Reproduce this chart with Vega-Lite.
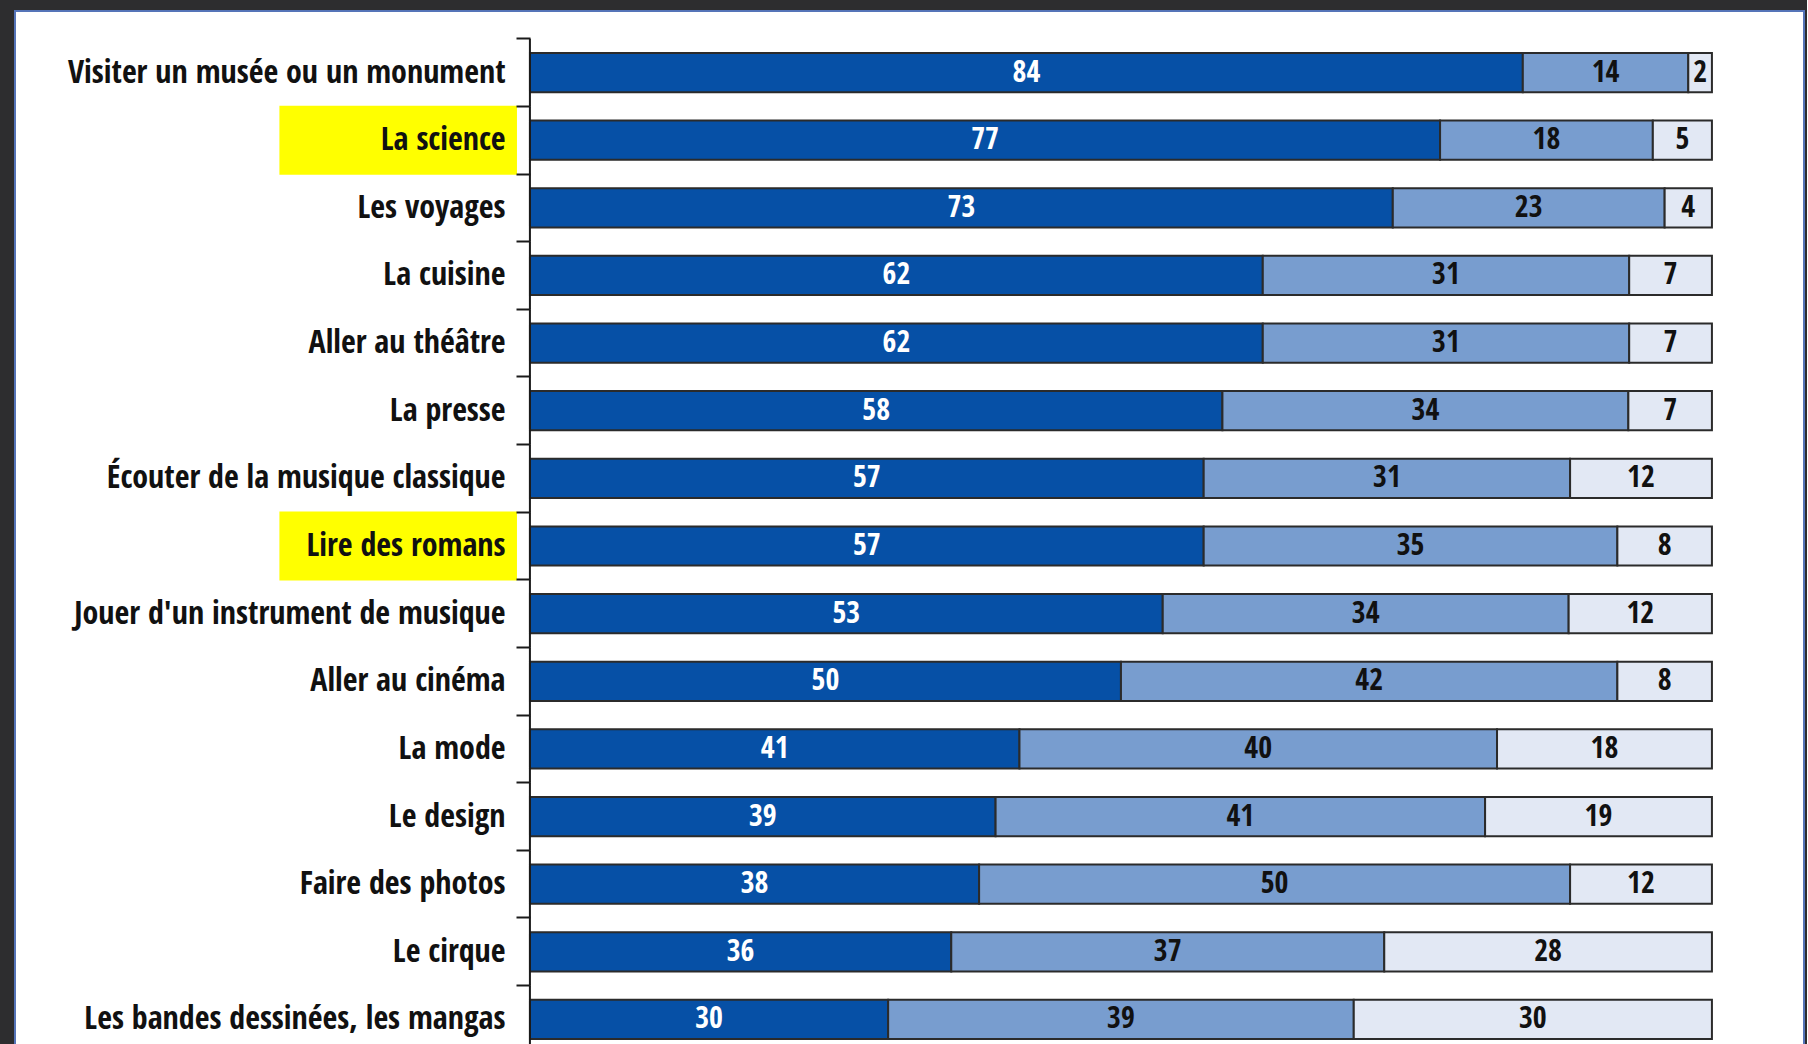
{
  "$schema": "https://vega.github.io/schema/vega-lite/v6.json",
  "width": 1789,
  "height": 1070,
  "padding": {"left": 15, "top": 11, "right": 3, "bottom": 0},
  "background": "#2d2d2f",
  "view": {"fill": "#ffffff", "stroke": "#5574b8", "strokeWidth": 2},
  "datasets": {
    "main": [
      {"activite": "Visiter un musée ou un monument", "segment": 1, "pct": 84},
      {"activite": "Visiter un musée ou un monument", "segment": 2, "pct": 14},
      {"activite": "Visiter un musée ou un monument", "segment": 3, "pct": 2},
      {"activite": "La science", "segment": 1, "pct": 77},
      {"activite": "La science", "segment": 2, "pct": 18},
      {"activite": "La science", "segment": 3, "pct": 5},
      {"activite": "Les voyages", "segment": 1, "pct": 73},
      {"activite": "Les voyages", "segment": 2, "pct": 23},
      {"activite": "Les voyages", "segment": 3, "pct": 4},
      {"activite": "La cuisine", "segment": 1, "pct": 62},
      {"activite": "La cuisine", "segment": 2, "pct": 31},
      {"activite": "La cuisine", "segment": 3, "pct": 7},
      {"activite": "Aller au théâtre", "segment": 1, "pct": 62},
      {"activite": "Aller au théâtre", "segment": 2, "pct": 31},
      {"activite": "Aller au théâtre", "segment": 3, "pct": 7},
      {"activite": "La presse", "segment": 1, "pct": 58},
      {"activite": "La presse", "segment": 2, "pct": 34},
      {"activite": "La presse", "segment": 3, "pct": 7},
      {"activite": "Écouter de la musique classique", "segment": 1, "pct": 57},
      {"activite": "Écouter de la musique classique", "segment": 2, "pct": 31},
      {"activite": "Écouter de la musique classique", "segment": 3, "pct": 12},
      {"activite": "Lire des romans", "segment": 1, "pct": 57},
      {"activite": "Lire des romans", "segment": 2, "pct": 35},
      {"activite": "Lire des romans", "segment": 3, "pct": 8},
      {"activite": "Jouer d'un instrument de musique", "segment": 1, "pct": 53},
      {"activite": "Jouer d'un instrument de musique", "segment": 2, "pct": 34},
      {"activite": "Jouer d'un instrument de musique", "segment": 3, "pct": 12},
      {"activite": "Aller au cinéma", "segment": 1, "pct": 50},
      {"activite": "Aller au cinéma", "segment": 2, "pct": 42},
      {"activite": "Aller au cinéma", "segment": 3, "pct": 8},
      {"activite": "La mode", "segment": 1, "pct": 41},
      {"activite": "La mode", "segment": 2, "pct": 40},
      {"activite": "La mode", "segment": 3, "pct": 18},
      {"activite": "Le design", "segment": 1, "pct": 39},
      {"activite": "Le design", "segment": 2, "pct": 41},
      {"activite": "Le design", "segment": 3, "pct": 19},
      {"activite": "Faire des photos", "segment": 1, "pct": 38},
      {"activite": "Faire des photos", "segment": 2, "pct": 50},
      {"activite": "Faire des photos", "segment": 3, "pct": 12},
      {"activite": "Le cirque", "segment": 1, "pct": 36},
      {"activite": "Le cirque", "segment": 2, "pct": 37},
      {"activite": "Le cirque", "segment": 3, "pct": 28},
      {"activite": "Les bandes dessinées, les mangas", "segment": 1, "pct": 30},
      {"activite": "Les bandes dessinées, les mangas", "segment": 2, "pct": 39},
      {"activite": "Les bandes dessinées, les mangas", "segment": 3, "pct": 30}
    ],
    "highlight": [
      {"activite": "La science"},
      {"activite": "Lire des romans"}
    ]
  },
  "layer": [
    {
      "data": {"name": "highlight"},
      "mark": {"type": "bar", "color": "#ffff00", "height": {"band": 1.02}},
      "encoding": {
        "y": {"field": "activite", "type": "nominal"},
        "x": {"datum": -0.212},
        "x2": {"datum": -0.011}
      }
    },
    {
      "data": {"name": "main"},
      "mark": {"type": "bar", "stroke": "#2b2b2b", "strokeWidth": 2, "height": {"band": 0.58}},
      "encoding": {
        "y": {"field": "activite", "type": "nominal"},
        "x": {"field": "pct", "type": "quantitative", "stack": "normalize"},
        "order": {"field": "segment"},
        "color": {
          "field": "segment",
          "type": "nominal",
          "scale": {"domain": [1, 2, 3], "range": ["#0650a6", "#789dcf", "#e2e8f4"]},
          "legend": null
        }
      }
    },
    {
      "data": {"name": "main"},
      "transform": [{"filter": "datum.segment === 1"}],
      "mark": {"type": "bar", "color": "#1a1a1a", "height": {"band": 1}},
      "encoding": {
        "y": {"field": "activite", "type": "nominal"},
        "x": {"datum": -0.0009},
        "x2": {"datum": 0.0008}
      }
    },
    {
      "data": {"name": "main"},
      "mark": {"type": "text", "font": "'Noto Sans Condensed', 'Open Sans Condensed', 'Ubuntu Condensed', 'DejaVu Sans Condensed', sans-serif", "fontSize": 30, "fontWeight": "bold", "baseline": "middle", "align": "center"},
      "encoding": {
        "y": {"field": "activite", "type": "nominal"},
        "x": {"field": "pct", "type": "quantitative", "stack": "normalize", "bandPosition": 0.5},
        "order": {"field": "segment"},
        "text": {"field": "pct", "type": "quantitative"},
        "color": {
          "condition": {"test": "datum.segment === 1", "value": "#ffffff"},
          "value": "#111111"
        }
      }
    }
  ],
  "encoding": {
    "y": {
      "field": "activite",
      "type": "nominal",
      "sort": null,
      "scale": {
        "domain": ["Visiter un musée ou un monument", "La science", "Les voyages", "La cuisine", "Aller au théâtre", "La presse", "Écouter de la musique classique", "Lire des romans", "Jouer d'un instrument de musique", "Aller au cinéma", "La mode", "Le design", "Faire des photos", "Le cirque", "Les bandes dessinées, les mangas"],
        "paddingInner": 0,
        "paddingOuter": 0.41
      },
      "axis": {
        "title": null,
        "orient": "left",
        "offset": -515,
        "zindex": 1,
        "domain": false,
        "bandPosition": 0,
        "ticks": true,
        "tickSize": 14,
        "tickWidth": 2,
        "tickColor": "#1a1a1a",
        "labelPadding": 11,
        "labelFont": "'Noto Sans Condensed', 'Open Sans Condensed', 'Ubuntu Condensed', 'DejaVu Sans Condensed', sans-serif",
        "labelFontSize": 32,
        "labelFontWeight": "bold",
        "labelColor": "#111111",
        "labelLimit": 600
      }
    },
    "x": {
      "scale": {"domain": [-0.4357, 1.0779], "nice": false, "zero": false},
      "axis": null
    }
  },
  "resolve": {"scale": {"color": "independent"}}
}
